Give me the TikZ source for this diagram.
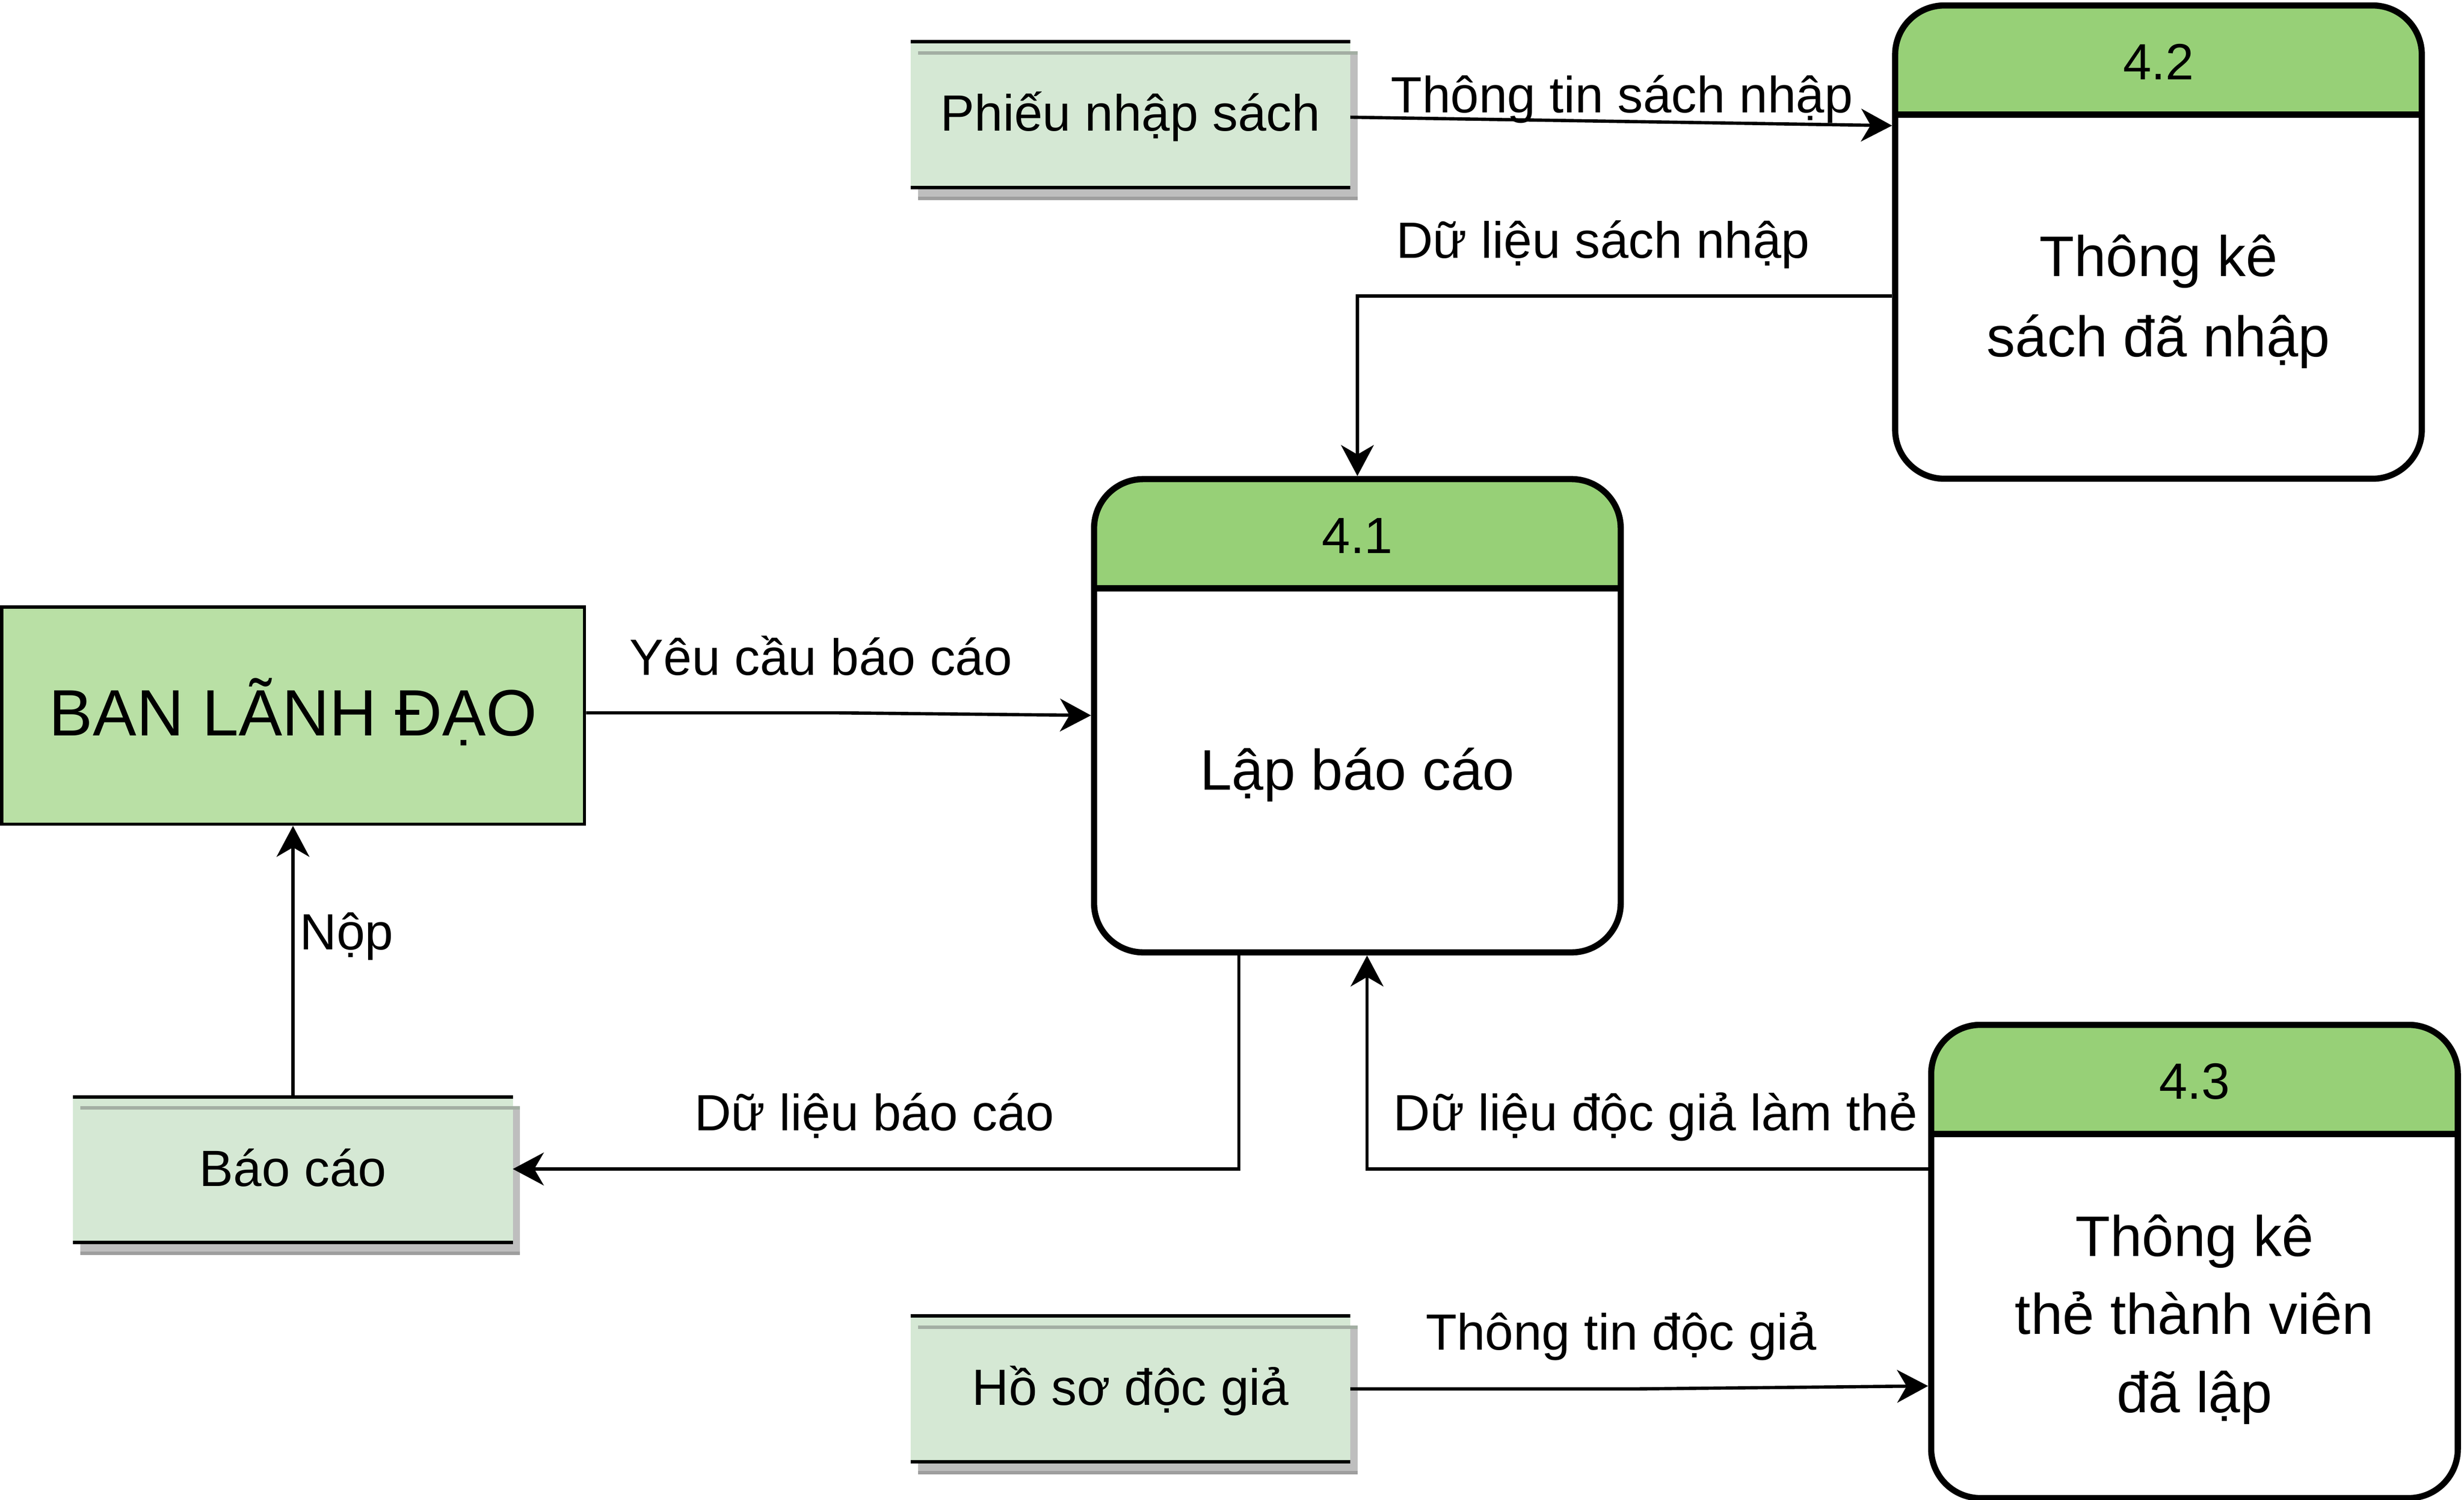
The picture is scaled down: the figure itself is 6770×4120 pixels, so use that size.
\documentclass[tikz,border=0pt]{standalone}
\usepackage{fontspec}
\setmainfont{Liberation Sans}
\usetikzlibrary{arrows.meta,backgrounds}
\definecolor{hdrgreen}{HTML}{97D077}
\definecolor{banfill}{HTML}{B9E0A5}
\definecolor{storefill}{HTML}{D5E8D4}
\definecolor{shadowgray}{HTML}{BEBEBE}
\definecolor{shadowdark}{HTML}{9E9E9E}
\definecolor{shadowin}{HTML}{A3AEA3}
\newcommand\labfont{\fontsize{140}{168}\selectfont}
\newcommand\bodyfont{\fontsize{157}{188}\selectfont}
\newcommand\banfont{\fontsize{180}{216}\selectfont}
\begin{document}
\begin{tikzpicture}[x=1pt,y=-1pt,
  proc/.style={draw, line width=17pt, rounded corners=135pt,
    minimum width=1447pt, minimum height=1300pt, inner sep=0pt, fill=white,
    path picture={
      \fill[hdrgreen, sharp corners] (path picture bounding box.north west) rectangle ([yshift=-300pt]path picture bounding box.north east);
      \draw[line width=17pt, sharp corners] ([yshift=-300pt]path picture bounding box.north west) -- ([yshift=-300pt]path picture bounding box.north east);}},
  store/.style={minimum width=1208pt, minimum height=400pt, inner sep=0pt, outer sep=0pt,
    fill=storefill, text height=90pt, text depth=0pt, font=\labfont},
  storeline/.style={line width=9.5pt},
  shadowtop/.style={line width=9.5pt, draw=shadowin},
  shadowbot/.style={line width=9.5pt, draw=shadowdark},
  extent/.style={draw, line width=9pt, fill=banfill, minimum width=1601pt, minimum height=597pt,
    inner sep=0pt, text height=111pt, text depth=0pt, font=\banfont},
  hdrtext/.style={anchor=base, inner sep=0pt, font=\labfont},
  bodytext/.style={anchor=base, inner sep=0pt, font=\bodyfont},
  flowlabel/.style={anchor=base west, inner sep=0pt, font=\labfont},
  flow/.style={line width=9pt, -{Stealth[length=85pt,width=90pt,inset=26pt]}}
]
\useasboundingbox (0,0) rectangle (6770,4120);

% processes
\node[proc] (p41) at (3729.5,1966) {};
\node[proc] (p42) at (5930.5,665) {};
\node[proc] (p43) at (6029.5,3465) {};

\node[hdrtext] (h41) at (3729.5,1520) {4.1};
\node[hdrtext] (h42) at (5930.5,219) {4.2};
\node[hdrtext] (h43) at (6029.5,3019) {4.3};

\node[bodytext] (t41) at (3729.5,2170) {Lập báo cáo};
\node[bodytext] (t42a) at (5930.5,759) {Thông kê};
\node[bodytext] (t42b) at (5930.5,979) {sách đã nhập};
\node[bodytext] (t43a) at (6029.5,3450) {Thông kê};
\node[bodytext] (t43b) at (6029.5,3665) {thẻ thành viên};
\node[bodytext] (t43c) at (6029.5,3880) {đã lập};

% external entity
\node[extent] (ban) at (805.5,1965.5) {BAN LÃNH ĐẠO};

% data stores
\node[store] (s1) at (3106,315) {Phiếu nhập sách};
\node[store] (s2) at (805,3213) {Báo cáo};
\node[store] (s3) at (3106,3815) {Hồ sơ độc giả};

\begin{scope}[on background layer]
  \foreach \s in {s1,s2,s3} {
    \fill[shadowgray] ([shift={(20pt,-30pt)}]\s.north west) rectangle ([shift={(20pt,-30pt)}]\s.south east);
  }
\end{scope}
\foreach \s in {s1,s2,s3} {
  \draw[shadowtop] ([shift={(20pt,-30pt)}]\s.north west) -- ([shift={(20pt,-30pt)}]\s.north east);
  \draw[shadowbot] ([shift={(20pt,-30pt)}]\s.south west) -- ([shift={(20pt,-30pt)}]\s.south east);
  \draw[storeline] (\s.north west) -- (\s.north east);
  \draw[storeline] (\s.south west) -- (\s.south east);
}

% connectors
\coordinate (k1) at (2296,1958);
\coordinate (k2) at (4500,3815);

\draw[flow] ([yshift=-7pt]s1.east) -- ([yshift=320pt]p42.west);
\draw[flow] ([yshift=-148pt]p42.west) -| (p41.north);
\draw[flow] ([yshift=7.5pt]ban.east) -- (k1) -- ([yshift=1pt]p41.west);
\draw[flow] (s2.north) -- (s2.north |- ban.south);
\draw[flow] ([xshift=-325.5pt]p41.south) |- ([yshift=2pt]s2.east);
\draw[flow] ([yshift=254pt]p43.west) -| ([xshift=26.5pt]p41.south);
\draw[flow] (s3.east) -- (k2) -- ([yshift=-342pt]p43.west);

% labels
\node[flowlabel] (l1) at (3822,310) {Thông tin sách nhập};
\node[flowlabel] (l2) at (3836,709) {Dữ liệu sách nhập};
\node[flowlabel] (l3) at (1730,1854) {Yêu cầu báo cáo};
\node[flowlabel] (l4) at (824,2608) {Nộp};
\node[flowlabel] (l5) at (1908,3105) {Dữ liệu báo cáo};
\node[flowlabel] (l6) at (3828,3105) {Dữ liệu độc giả làm thẻ};
\node[flowlabel] (l7) at (3917,3708) {Thông tin độc giả};
\end{tikzpicture}
\end{document}
